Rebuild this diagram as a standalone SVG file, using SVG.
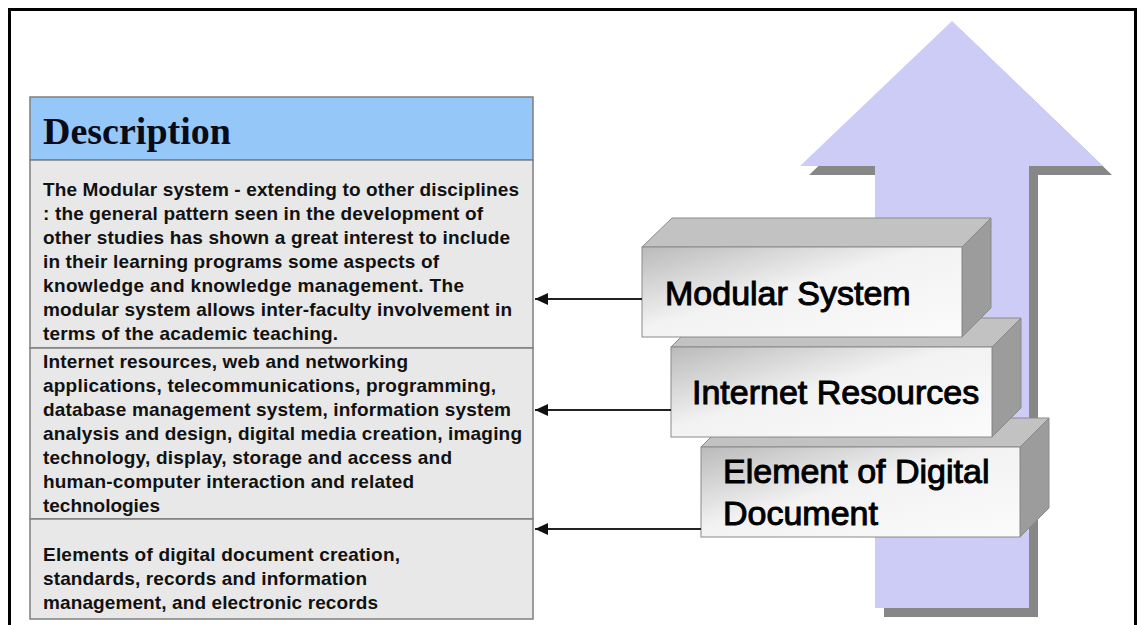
<svg xmlns="http://www.w3.org/2000/svg" width="1139" height="625" viewBox="0 0 1139 625">
  <style>
    .frame { fill: none; stroke: #000; stroke-width: 3; }
    .hdr { fill: #95c8f8; stroke: #7f7f7f; stroke-width: 1.5; }
    .cell { fill: #e8e8e8; stroke: #7f7f7f; stroke-width: 1.5; }
    .title { font-family: "Liberation Serif", "Times New Roman", serif; font-weight: bold; font-size: 38px; fill: #0b0b18; }
    .body { font-family: "Liberation Sans", Arial, sans-serif; font-weight: bold; font-size: 19px; fill: #111; }
    .front { fill: url(#faceGrad); stroke: #8a8a8a; stroke-width: 1; }
    .top { fill: #c2c2c2; stroke: #8a8a8a; stroke-width: 1; }
    .side { fill: #9c9c9c; stroke: #8a8a8a; stroke-width: 1; }
    .lbl { font-family: "Liberation Sans", Arial, sans-serif; font-size: 34px; fill: #000; stroke: #000; stroke-width: 1; }
    .link { stroke: #222; stroke-width: 2; fill: none; marker-end: url(#head); }
  </style>
  <defs>
    <linearGradient id="faceGrad" x1="0" y1="0" x2="1" y2="1">
      <stop offset="0" stop-color="#bababa"/>
      <stop offset="0.45" stop-color="#f2f2f2"/>
      <stop offset="1" stop-color="#fbfbfb"/>
    </linearGradient>
    <marker id="head" markerWidth="14" markerHeight="12" refX="13" refY="6" orient="auto" markerUnits="userSpaceOnUse">
      <path d="M0,0 L13,6 L0,12 Z" fill="#111"/>
    </marker>
  </defs>

  <rect width="1139" height="625" fill="#fff"/>
  <rect class="frame" x="9.5" y="9.5" width="1126" height="700"/>

  <!-- upward arrow with drop shadow -->
  <g id="rise-arrow">
    <path d="M961,30 L1112,175 L1038,175 L1038,617 L884,617 L884,175 L809,175 Z" fill="#878787"/>
    <path d="M952,21 L1103,166 L1029,166 L1029,608 L875,608 L875,166 L800,166 Z" fill="#ccccf7"/>
  </g>

  <!-- description table -->
  <g id="description">
    <rect class="hdr" x="30" y="97" width="503" height="63"/>
    <text class="title" x="43" y="144">Description</text>
  </g>

  <g id="desc-modular">
    <rect class="cell" x="30" y="160" width="503" height="188"/>
    <text class="body">
      <tspan x="43" y="196" textLength="476" lengthAdjust="spacing">The Modular system - extending to other disciplines</tspan>
      <tspan x="43" y="220" textLength="440" lengthAdjust="spacing">: the general pattern seen in the development of</tspan>
      <tspan x="43" y="244" textLength="467" lengthAdjust="spacing">other studies has shown a great interest to include</tspan>
      <tspan x="43" y="268" textLength="396" lengthAdjust="spacing">in their learning programs some aspects of</tspan>
      <tspan x="43" y="292" textLength="421" lengthAdjust="spacing">knowledge and knowledge management.  The</tspan>
      <tspan x="43" y="316" textLength="469" lengthAdjust="spacing">modular system allows inter-faculty involvement in</tspan>
      <tspan x="43" y="340" textLength="295" lengthAdjust="spacing">terms of the academic teaching.</tspan>
    </text>
  </g>

  <g id="desc-internet">
    <rect class="cell" x="30" y="348" width="503" height="171"/>
    <text class="body">
      <tspan x="43" y="368" textLength="365" lengthAdjust="spacing">Internet resources, web and networking</tspan>
      <tspan x="43" y="392" textLength="453" lengthAdjust="spacing">applications, telecommunications, programming,</tspan>
      <tspan x="43" y="416" textLength="468" lengthAdjust="spacing">database management system, information system</tspan>
      <tspan x="43" y="440" textLength="479" lengthAdjust="spacing">analysis and design, digital media creation, imaging</tspan>
      <tspan x="43" y="464" textLength="409" lengthAdjust="spacing">technology, display, storage and access and</tspan>
      <tspan x="43" y="488" textLength="371" lengthAdjust="spacing">human-computer interaction and related</tspan>
      <tspan x="43" y="512" textLength="117" lengthAdjust="spacing">technologies</tspan>
    </text>
  </g>

  <g id="desc-element">
    <rect class="cell" x="30" y="519" width="503" height="100"/>
    <text class="body">
      <tspan x="43" y="561" textLength="357" lengthAdjust="spacing">Elements of digital document creation,</tspan>
      <tspan x="43" y="585" textLength="324" lengthAdjust="spacing">standards, records and information</tspan>
      <tspan x="43" y="609" textLength="335" lengthAdjust="spacing">management, and electronic records</tspan>
    </text>
  </g>

  <!-- stacked blocks, drawn bottom to top -->
  <g id="block-element">
    <path class="top" d="M701,447 L730,418 L1049,418 L1020,447 Z"/>
    <path class="side" d="M1020,447 L1049,418 L1049,508 L1020,537 Z"/>
    <rect class="front" x="701" y="447" width="319" height="90"/>
    <text class="lbl" x="723" y="483">Element of Digital</text>
    <text class="lbl" x="723" y="525">Document</text>
  </g>

  <g id="block-internet">
    <path class="top" d="M671,347 L700,318 L1021,318 L992,347 Z"/>
    <path class="side" d="M992,347 L1021,318 L1021,408 L992,437 Z"/>
    <rect class="front" x="671" y="347" width="321" height="90"/>
    <text class="lbl" x="692" y="404">Internet Resources</text>
  </g>

  <g id="block-modular">
    <path class="top" d="M642,247 L672,218 L991,218 L962,247 Z"/>
    <path class="side" d="M962,247 L991,218 L991,308 L962,337 Z"/>
    <rect class="front" x="642" y="247" width="320" height="90"/>
    <text class="lbl" x="665" y="305">Modular System</text>
  </g>

  <!-- connectors -->
  <g id="connectors">
    <line class="link" x1="642" y1="299" x2="535" y2="299"/>
    <line class="link" x1="671" y1="410" x2="535" y2="410"/>
    <line class="link" x1="701" y1="529" x2="535" y2="529"/>
  </g>
</svg>
